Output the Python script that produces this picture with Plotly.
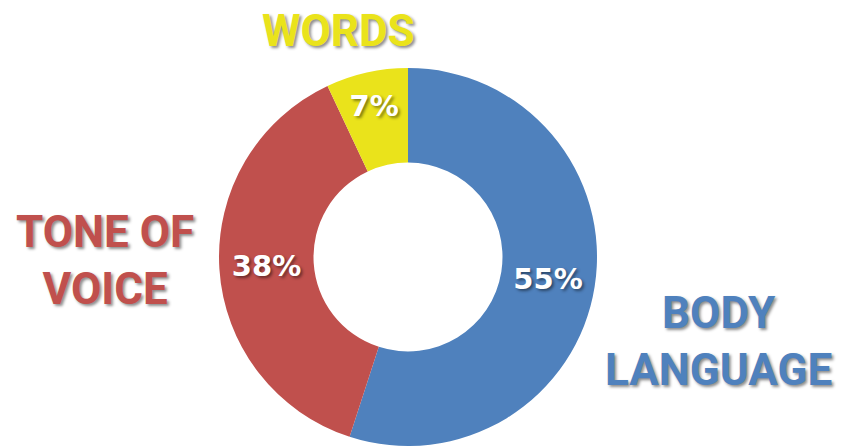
import plotly.graph_objects as go

categories = ["BODY LANGUAGE", "TONE OF VOICE", "WORDS"]
values = [55, 38, 7]
colors = ["#4F81BD", "#C0504D", "#EAE31B"]
label_text = ["BODY<br>LANGUAGE", "TONE OF<br>VOICE", "WORDS"]

W, H = 847, 446
LABEL_FONT = "Roboto"
PCT_FONT = "DejaVu Sans"
SHADOW = "2px 2px 3px rgba(0,0,0,0.45)"

fig = go.Figure(go.Pie(
    labels=categories,
    values=values,
    hole=0.5,
    sort=False,
    direction="clockwise",
    rotation=0,
    marker=dict(colors=colors, line=dict(color="white", width=0)),
    textinfo="percent",
    texttemplate="%{percent:.0%}",
    textposition="inside",
    insidetextorientation="horizontal",
    textfont=dict(family=PCT_FONT, size=29, color="white", weight="bold", shadow=SHADOW),
    domain=dict(x=[218 / W, 598 / W], y=[0, 378 / H]),
    showlegend=False,
    hoverinfo="label+percent",
))

positions = [(718, 341), (105, 260), (338, 31)]
for txt, col, (px, py) in zip(label_text, colors, positions):
    fig.add_annotation(
        text=txt, x=px / W, y=1 - py / H, xref="paper", yref="paper",
        xanchor="center", yanchor="middle",
        showarrow=False, align="center",
        font=dict(family=LABEL_FONT, size=44, color=col, weight="bold", shadow=SHADOW),
    )

fig.update_layout(
    width=W, height=H,
    margin=dict(l=0, r=0, t=0, b=0),
    paper_bgcolor="white", plot_bgcolor="white",
    uniformtext=dict(minsize=29, mode="show"),
)
fig.write_html("out.html", config={"displayModeBar": False},
               post_script="document.body.style.margin='0px';")
